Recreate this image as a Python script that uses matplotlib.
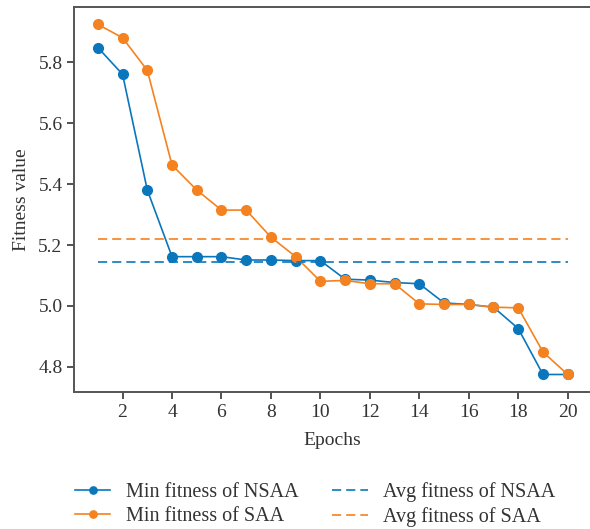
import matplotlib.pyplot as plt

# Data
epochs = list(range(1, 21))
min_nsaa = [5.849, 5.761, 5.381, 5.162, 5.162, 5.162, 5.151, 5.151, 5.149, 5.149,
            5.088, 5.085, 5.077, 5.073, 5.010, 5.005, 4.996, 4.926, 4.775, 4.775]
min_saa = [5.925, 5.881, 5.774, 5.463, 5.381, 5.315, 5.315, 5.226, 5.162, 5.081,
           5.084, 5.073, 5.073, 5.007, 5.005, 5.005, 4.996, 4.994, 4.849, 4.775]
avg_nsaa = 5.146
avg_saa = 5.220
xticks = [2, 4, 6, 8, 10, 12, 14, 16, 18, 20]
yticks = [4.8, 5.0, 5.2, 5.4, 5.6, 5.8]

blue = '#0a77bd'
orange = '#f58220'

plt.rcParams['font.family'] = ['Liberation Serif', 'DejaVu Serif']

fig = plt.figure(figsize=(5.9, 5.29), dpi=100)
ax = fig.add_axes([0.126, 0.259, 0.876, 0.728])

ax.plot(epochs, min_nsaa, '-o', color=blue, lw=1.2, ms=7, label='Min fitness of NSAA')
ax.plot(epochs, min_saa, '-o', color=orange, lw=1.2, ms=7, label='Min fitness of SAA')
ax.plot(epochs, [avg_nsaa] * len(epochs), '--', color=blue, lw=1.2, dashes=(5.5, 3),
        label='Avg fitness of NSAA')
ax.plot(epochs, [avg_saa] * len(epochs), '--', color=orange, lw=1.2, dashes=(5.5, 3),
        label='Avg fitness of SAA')

ax.set_xticks(xticks)
ax.set_yticks(yticks)
ax.set_yticklabels([f'{v:.1f}' for v in yticks])
ax.tick_params(labelsize=14, colors='#333333', length=5, width=1.2, direction='out')
for side in ['left', 'bottom', 'top', 'right']:
    ax.spines[side].set_color('#555555')
    ax.spines[side].set_linewidth(1.4)

ax.set_xlabel('Epochs', fontsize=14, color='#333333', labelpad=8)
ax.set_ylabel('Fitness value', fontsize=14, color='#333333', labelpad=6)

fig.legend(loc='center', bbox_to_anchor=(0.534, 0.046), ncol=2, frameon=False,
           fontsize=14.5, handlelength=1.75, handletextpad=0.75, columnspacing=1.7,
           labelspacing=0.25, markerscale=0.75, labelcolor='#333333')

fig.savefig('out.png', dpi=100)
